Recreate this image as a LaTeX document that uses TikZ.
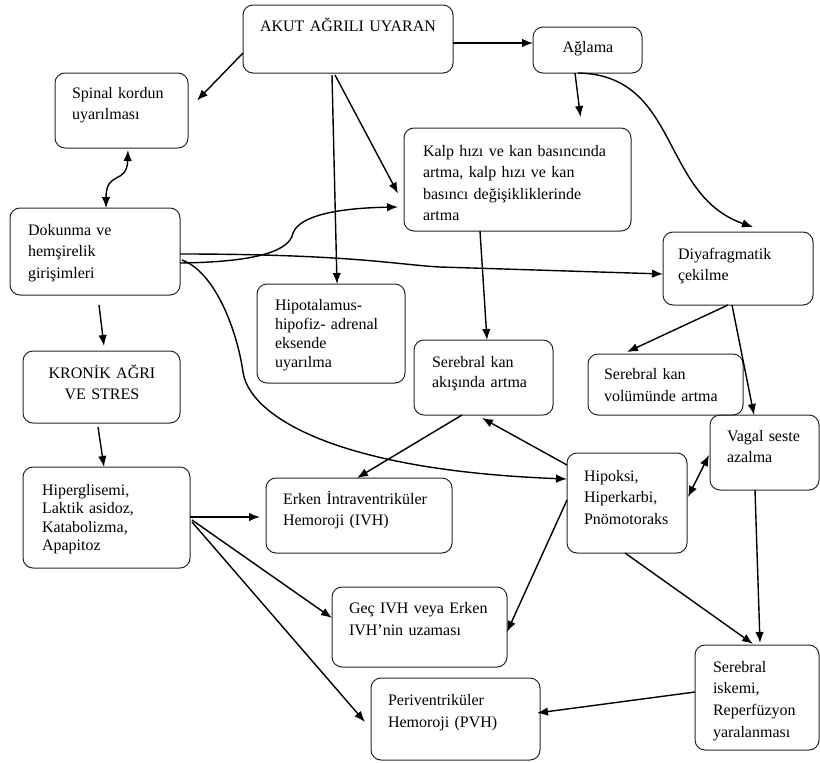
\documentclass[tikz,border=0pt]{standalone}
\usepackage{fontspec}
\setmainfont{Liberation Serif}
\usetikzlibrary{calc,arrows.meta}
\tikzset{
  box/.style={draw=black!85, rounded corners=10pt, line width=1pt, inner sep=0pt, outer sep=0pt},
  txt/.style={inner sep=0pt, outer sep=0pt, text width=220pt, align=left, anchor=base west,
              font=\fontsize{16}{#1}\selectfont},
  txt/.default={21.6},
  ctxt/.style={inner sep=0pt, outer sep=0pt, text width=200pt, align=center, anchor=base,
              font=\fontsize{16}{#1}\selectfont},
  ctxt/.default={21.6},
  arr/.style={line width=1.4pt, -{Latex[length=11pt,width=8.5pt]}},
  darr/.style={line width=1.4pt, {Latex[length=11pt,width=8.5pt]}-{Latex[length=11pt,width=8.5pt]}},
}
\newcommand\mkbox[5]{\node[box, minimum width={#4-#2}, minimum height={#5-#3}] (#1) at ({(#2+#4)/2},{(#3+#5)/2}) {};}
\begin{document}
\begin{tikzpicture}[x=1pt,y=-1pt]
\useasboundingbox (0,0) rectangle (820,763);
% boxes
\mkbox{akut}{243}{5}{453}{73}
\mkbox{agl}{533}{27}{642}{73}
\mkbox{spin}{55}{73}{188}{148}
\mkbox{kalp}{404}{128}{631}{231}
\mkbox{dok}{10}{208}{180}{295}
\mkbox{diy}{663}{232}{813}{305}
\mkbox{hipo}{257}{284}{405}{383}
\mkbox{kron}{23}{351}{180}{423}
\mkbox{sak}{414}{340}{553}{415}
\mkbox{svol}{588}{354}{743}{415}
\mkbox{vag}{710}{415}{819}{490}
\mkbox{hip}{567}{453}{687}{553}
\mkbox{hig}{23}{467}{190}{568}
\mkbox{eivh}{266}{478}{452}{553}
\mkbox{gec}{332}{587}{507}{667}
\mkbox{pvh}{371}{678}{540}{760}
\mkbox{isk}{695}{645}{819}{750}
% texts
\node[txt] (akut-t) at (260,31) {AKUT AĞRILI UYARAN};
\node[ctxt] (agl-t) at (588,52) {Ağlama};
\node[txt={21}] (spin-t) at (72,98) {Spinal kordun\\uyarılması};
\node[txt={21.5}] (kalp-t) at (423,156) {Kalp hızı ve kan basıncında\\artma, kalp hızı ve kan\\basıncı değişikliklerinde\\artma};
\node[txt={21.5}] (dok-t) at (28,235) {Dokunma ve\\hemşirelik\\girişimleri};
\node[txt={21}] (diy-t) at (678,259) {Diyafragmatik\\çekilme};
\node[txt={19}] (hipo-t) at (275,310) {Hipotalamus-\\hipofiz- adrenal\\eksende\\uyarılma};
\node[ctxt={21}] (kron-t) at (102,378) {KRONİK AĞRI\\VE STRES};
\node[txt={20}] (sak-t) at (432,367) {Serebral kan\\akışında artma};
\node[txt={22}] (svol-t) at (604,379) {Serebral kan\\volümünde artma};
\node[txt={21}] (vag-t) at (727,441) {Vagal seste\\azalma};
\node[txt={21.5}] (hip-t) at (584,481) {Hipoksi,\\Hiperkarbi,\\Pnömotoraks};
\node[txt={18.5}] (hig-t) at (42,495) {Hiperglisemi,\\Laktik asidoz,\\Katabolizma,\\Apapitoz};
\node[txt={21.5}] (eivh-t) at (283,504) {Erken İntraventriküler\\Hemoroji (IVH)};
\node[txt={22}] (gec-t) at (349,613) {Geç IVH veya Erken\\IVH’nin uzaması};
\node[txt={22}] (pvh-t) at (388,705) {Periventriküler\\Hemoroji (PVH)};
\node[txt={21.7}] (isk-t) at (713,672) {Serebral\\iskemi,\\Reperfüzyon\\yaralanması};
% connectors
\draw[arr] ($(akut.west)+(0,14)$) -- ($(spin.east)+(9,-10)$);
\draw[arr] ($(akut.south)+(-16,2)$) -- ($(hipo.north)+(6,0)$);
\draw[arr] ($(akut.south)+(-13,2)$) -- ($(kalp.west)+(-6,14)$);
\draw[arr] ($(akut.east)+(0,4)$) -- ($(agl.west)+(0,-7)$);
\draw[arr] ($(agl.south)+(-12.5,0)$) -- ($(kalp.north)+(63,-11)$);
\draw[arr] ($(agl.south)+(-9.5,0)$) .. controls +(102,2) and +(-93,-32) .. ($(diy.north)+(15,-5)$);
\draw[darr] ($(spin.south)+(6.5,2)$) .. controls +(-1,35) and +(0,-38) .. ($(dok.north)+(11,0)$);
\draw[arr] ($(dok.east)+(0,11.5)$) .. controls +(80,-1) and +(-3,17) .. ++(113,-30)
  .. controls +(7,-18) and +(-58,1) .. ($(kalp.west)+(-6,27.5)$);
\draw[arr] ($(dok.east)+(0,2.5)$) .. controls +(170,0) and +(-40,-2) .. ++(260,13) -- ($(diy.west)+(0,5.5)$);
\draw[arr] ($(dok.east)+(2,8.5)$) .. controls +(33,12) and +(-6,-42) .. ++(61,112)
  .. controls +(6,42) and +(-237,-9) .. ($(hip.west)+(0,-24)$);
\draw[arr] ($(dok.south)+(4,10)$) -- ($(kron.north)+(2.5,-5)$);
\draw[arr] ($(kron.south)+(-3.5,4)$) -- ($(hig.north)+(-2.5,0)$);
\draw[arr] ($(hig.east)+(0,-0.5)$) -- ($(eivh.west)+(-6,1.5)$);
\draw[arr] ($(hig.east)+(2,2.5)$) -- ($(gec.west)+(0,-9)$);
\draw[arr] ($(hig.east)+(2,4.5)$) -- ($(pvh.west)+(-6,3)$);
\draw[arr] ($(kalp.south)+(-37.5,0)$) -- ($(sak.north)+(3.5,0)$);
\draw[arr] ($(sak.south)+(-21.5,0)$) -- ($(eivh.north)+(-2,0)$);
\draw[arr] ($(hip.west)+(0,-38)$) -- ($(sak.south)+(-1.5,3)$);
\draw[arr] ($(hip.west)+(0,-3)$) -- ($(gec.east)+(0,5)$);
\draw[arr] ($(hip.south)+(-2,0)$) -- ($(isk.north)+(-4,-1)$);
\draw[darr] ($(hip.east)+(1,-6)$) -- ($(vag.west)+(-1,2.5)$);
\draw[arr] ($(diy.south)+(-10,0)$) -- ($(svol.north)+(-38.5,-2)$);
\draw[arr] ($(diy.south)+(-6,0)$) -- ($(vag.north)+(-10.5,0)$);
\draw[arr] ($(vag.south)+(-9.5,0)$) -- ($(isk.north)+(3,-2)$);
\draw[arr] ($(isk.west)+(0,-5.5)$) -- ($(pvh.east)+(-3,-6)$);
\end{tikzpicture}
\end{document}
